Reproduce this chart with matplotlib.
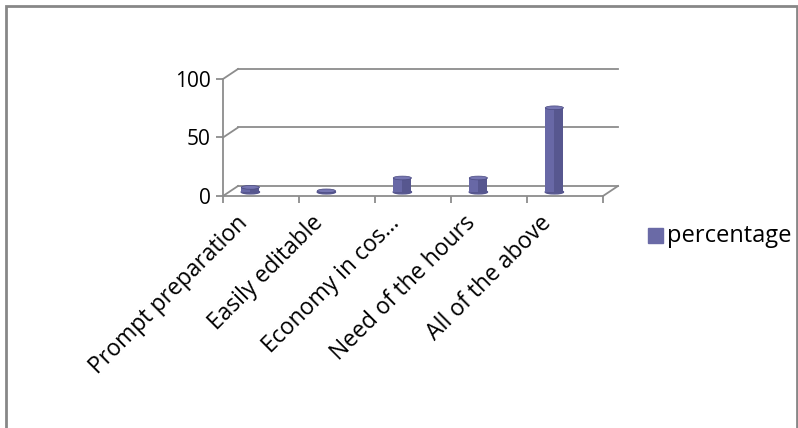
"""
Reasons for preferring the method (3-D style column chart)
"""
import matplotlib
matplotlib.use('Agg')
from matplotlib import pyplot as plt
import matplotlib.patches as patches
import matplotlib.transforms as mtransforms

# Data:
categories = ['Prompt preparation', 'Easily editable', 'Economy in cos\u2026',
              'Need of the hours', 'All of the above']
percentage = [4, 1, 12, 12, 72]
y_ticks = [0, 50, 100]

# Colours:
barColour = '#6868a6'
barShade = '#57578f'
barTop = '#7676b2'
gridColour = '#8c8c8c'

plt.rcParams['font.family'] = ['Open Sans', 'DejaVu Sans']

figure = plt.figure(figsize=(7.98, 4.28), dpi=100)

# Outer frame around the chart area
frame = patches.Rectangle((6/798, -0.05), 791/798, 1.05 - 6/428, transform=figure.transFigure,
                          fill=False, edgecolor='#878787', linewidth=2.0)
figure.add_artist(frame)

ax = figure.add_axes([223/798, 1 - 196/428, 380/798, 117/428])
n = len(categories)
ax.set_xlim(0, n)
ax.set_ylim(0, 100)

# depth of the back wall (15 px right, 10 px up) in data units
dx = 15 * n / 380
dy = 10 * 100 / 117

for s in ['top', 'right']:
    ax.spines[s].set_visible(False)
for s in ['left', 'bottom']:
    ax.spines[s].set_color(gridColour)
    ax.spines[s].set_linewidth(1.3)

# back wall gridlines and side wall diagonals
for v in y_ticks:
    ax.plot([0, dx], [v, v + dy], color=gridColour, lw=1.3, clip_on=False, zorder=1)
    ax.plot([dx, n + dx], [v + dy, v + dy], color=gridColour, lw=1.3, clip_on=False, zorder=1)
ax.plot([n, n + dx], [0, dy], color=gridColour, lw=1.3, clip_on=False, zorder=1)

# columns: light face, darker right side, elliptical top
bw = 0.24
lift = 3.4
capH = 3.2
for i, val in enumerate(percentage):
    xc = i + 0.36
    ax.bar(xc, val, width=bw, bottom=lift, color=barColour, zorder=3, clip_on=False)
    ax.bar(xc + bw * 0.25, val, width=bw * 0.5, bottom=lift, color=barShade, zorder=3,
           clip_on=False)
    ax.add_patch(patches.Ellipse((xc, lift), bw, capH, color=barShade, zorder=2,
                                 clip_on=False))
    ax.add_patch(patches.Ellipse((xc, lift + val), bw, capH, facecolor=barTop,
                                 edgecolor='#4a4a80', lw=0.5, zorder=4, clip_on=False))

# axes ticks
ax.set_yticks(y_ticks)
ax.set_yticklabels([str(v) for v in y_ticks], fontsize=15)
ax.tick_params(axis='y', length=5, width=1.3, color=gridColour, pad=4)
ax.set_xticks(range(n + 1))
ax.set_xticklabels([''] * (n + 1))
ax.tick_params(axis='x', which='major', length=5, width=1.3, color=gridColour)
ax.set_xticks([i + 0.5 for i in range(n)], minor=True)
ax.set_xticklabels(categories, minor=True, rotation=45, ha='right', va='center',
                   rotation_mode='anchor', fontsize=16.5)
ax.tick_params(axis='x', which='minor', length=0, pad=17)

# nudge category labels left so their ends sit under the columns
shift = mtransforms.ScaledTranslation(-17/100, 0, figure.dpi_scale_trans)
for lbl in ax.get_xticklabels(minor=True):
    lbl.set_transform(lbl.get_transform() + shift)

# Legend
figure.add_artist(patches.Rectangle((648/798, 1 - 243/428), 15/798, 15/428,
                                    transform=figure.transFigure, color='#6a6aa6'))
figure.text(667/798, 1 - 236/428, 'percentage', fontsize=17, va='center', ha='left')

plt.savefig('out.png', dpi=100)
